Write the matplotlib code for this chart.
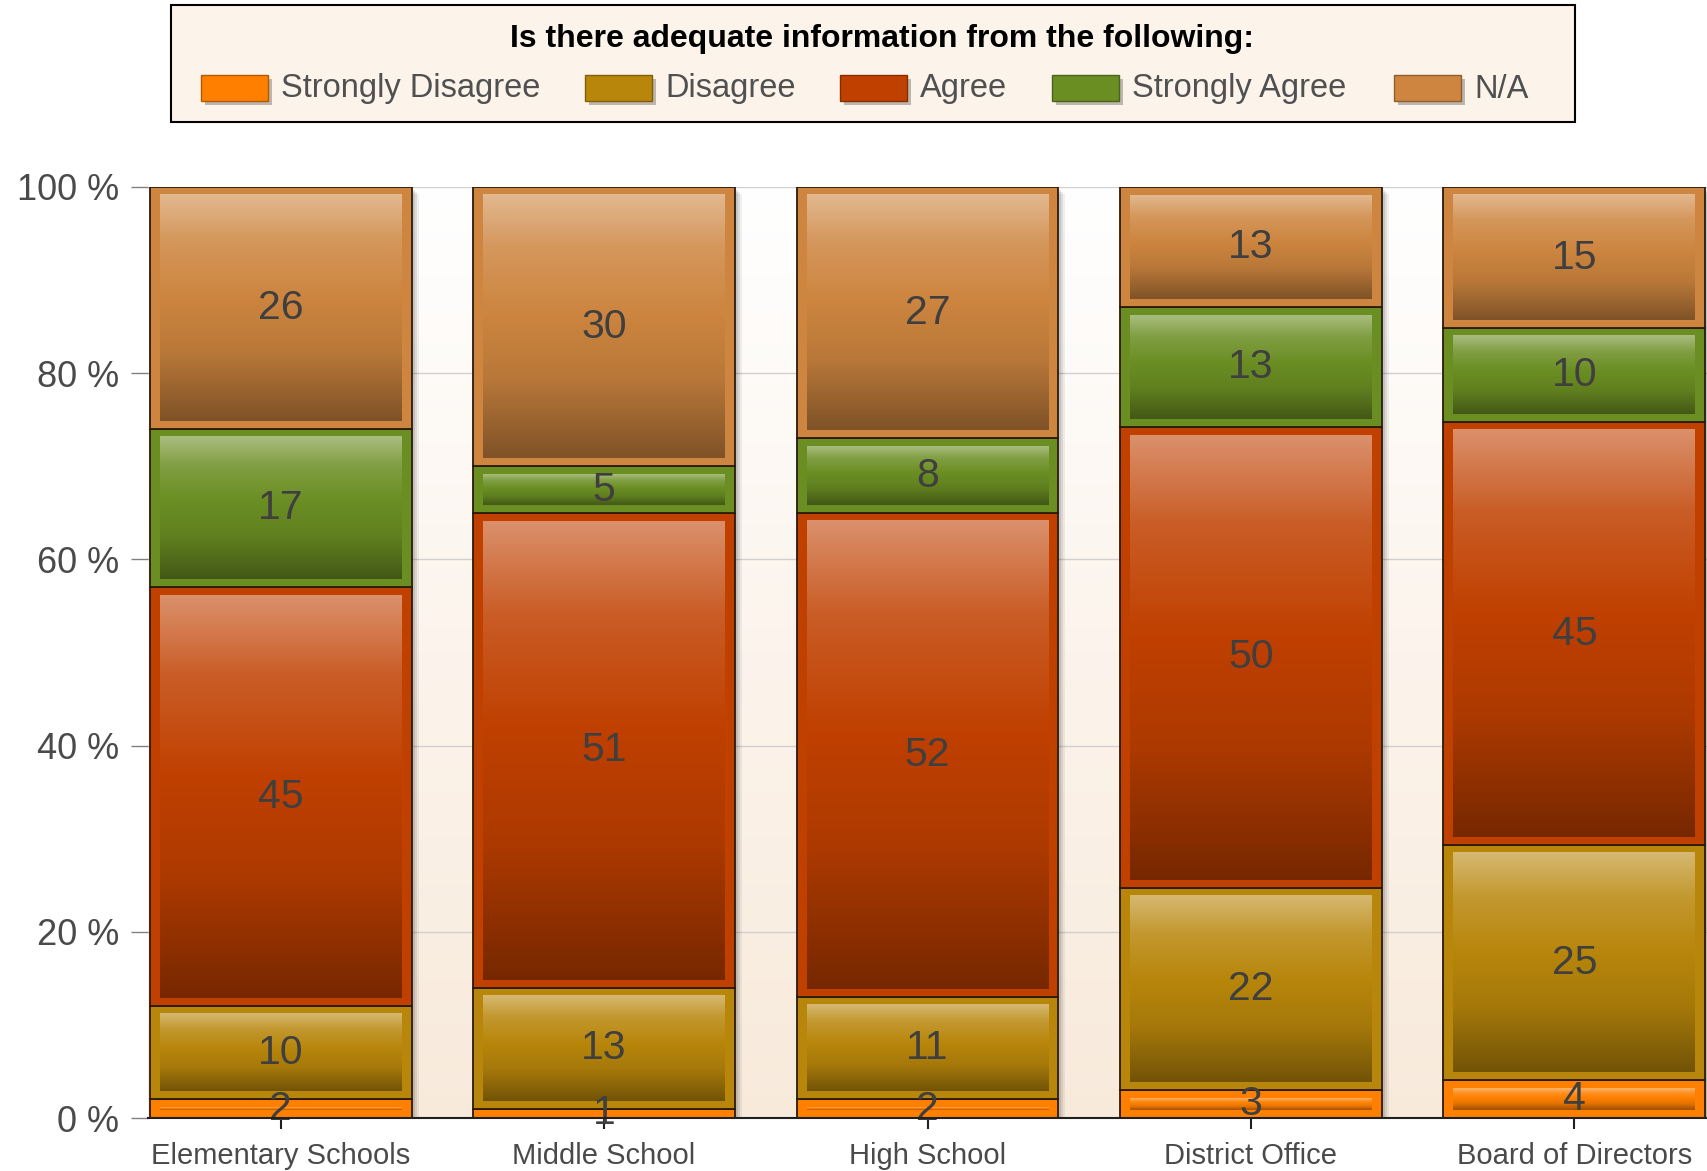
import numpy as np
import matplotlib
matplotlib.use("Agg")
import matplotlib.pyplot as plt
from matplotlib import font_manager as fm
from matplotlib.colors import to_rgb, LinearSegmentedColormap
from matplotlib.patches import Rectangle

# ---------------- data ----------------
categories = ["Elementary Schools", "Middle School", "High School",
              "District Office", "Board of Directors"]
series_names = ["Strongly Disagree", "Disagree", "Agree", "Strongly Agree", "N/A"]
strongly_disagree = [2, 1, 2, 3, 4]
disagree = [10, 13, 11, 22, 25]
agree = [45, 51, 52, 50, 45]
strongly_agree = [17, 5, 8, 13, 10]
not_applicable = [26, 30, 27, 13, 15]
y_ticks = [0, 20, 40, 60, 80, 100]
y_tick_labels = ["0 %", "20 %", "40 %", "60 %", "80 %", "100 %"]
legend_title = "Is there adequate information from the following:"
series_colors = ["#FF8000", "#B8860B", "#C04000", "#6B8E23", "#CD853F"]

# ---------------- fonts ----------------
names = {f.name for f in fm.fontManager.ttflist}
base_font = "Liberation Sans" if "Liberation Sans" in names else "DejaVu Sans"
narrow_font = "Liberation Sans Narrow" if "Liberation Sans Narrow" in names else base_font
plt.rcParams["font.family"] = [base_font, "DejaVu Sans"]

W, H = 1707, 1171
fig = plt.figure(figsize=(W / 100, H / 100), dpi=100)
fig.patch.set_facecolor("white")

ax_left, ax_right, ax_top, ax_bottom = 148, 1707, 187, 1118
ax = fig.add_axes([ax_left / W, 1 - ax_bottom / H,
                   (ax_right - ax_left) / W, (ax_bottom - ax_top) / H])

xlim = (-0.41, 4.41)
ylim = (0, 100)
px_per_x = (ax_right - ax_left) / (xlim[1] - xlim[0])
px_per_y = (ax_bottom - ax_top) / (ylim[1] - ylim[0])

# plot-area background gradient
bg_cmap = LinearSegmentedColormap.from_list("bg", ["#F8EADB", "#FCF4EC", "#FFFFFF"])
ax.imshow(np.linspace(0, 1, 256).reshape(-1, 1), cmap=bg_cmap, origin="lower",
          extent=[0, 1, 0, 1], transform=ax.transAxes, aspect="auto", zorder=0)


def shade(c, f):
    r = np.array(to_rgb(c))
    return tuple(np.clip(r * f, 0, 1))


def tint(c, f):
    r = np.array(to_rgb(c))
    return tuple(r + (1 - r) * f)


counts = np.array([strongly_disagree, disagree, agree, strongly_agree, not_applicable], dtype=float)
totals = counts.sum(axis=0)
pct = counts / totals * 100
x = np.arange(len(categories))
width = 0.81
bottoms = np.zeros(len(categories))

# soft drop shadow per bar column
for k, a in enumerate([0.10, 0.08, 0.06]):
    off = (3 + 2 * k)
    ax.bar(x + off / px_per_x, 100, width, bottom=-off / px_per_y,
           color="black", alpha=a, linewidth=0, zorder=1)

grad = np.linspace(0, 1, 256).reshape(-1, 1)
dx = 10 / px_per_x
dy = 8 / px_per_y
for si, color in enumerate(series_colors):
    vals = pct[si]
    ax.bar(x, vals, width, bottom=bottoms, color=color, edgecolor="#2B1A0A",
           linewidth=1.3, zorder=2)
    cmap = LinearSegmentedColormap.from_list(
        "g%d" % si,
        [(0.0, shade(color, 0.62)), (0.3, shade(color, 0.9)), (0.55, to_rgb(color)),
         (0.8, tint(color, 0.15)), (1.0, tint(color, 0.42))])
    for ci in range(len(categories)):
        y0, h = bottoms[ci], vals[ci]
        if h - 2 * dy > 0.2:
            ax.imshow(grad, cmap=cmap, origin="lower", interpolation="bicubic",
                      extent=[x[ci] - width / 2 + dx, x[ci] + width / 2 - dx,
                              y0 + dy, y0 + h - dy],
                      aspect="auto", zorder=3)
        ax.text(x[ci], y0 + h / 2, "%d" % counts[si, ci], ha="center", va="center",
                fontsize=29.5, color="#3F3F3F", zorder=5)
    bottoms = bottoms + vals

ax.set_xlim(*xlim)
ax.set_ylim(*ylim)
ax.set_yticks(y_ticks, y_tick_labels)
ax.set_xticks(x, categories)
ax.tick_params(axis="y", length=12, width=1, color="#808080", pad=9,
               labelsize=26, labelcolor="#4A4A4A")
ax.tick_params(axis="x", length=8, width=1.5, color="#202020", pad=9,
               labelsize=21, labelcolor="#4A4A4A")
ax.yaxis.grid(True, color="#D0D0D0", linewidth=1)
ax.set_axisbelow(True)
for s in ["left", "top", "right"]:
    ax.spines[s].set_visible(False)
ax.spines["bottom"].set_color("#202020")
ax.spines["bottom"].set_linewidth(1.5)
ax.spines["bottom"].set_zorder(6)

# ---------------- legend ----------------
lax = fig.add_axes([0, 0, 1, 1])
lax.set_xlim(0, W)
lax.set_ylim(H, 0)
lax.axis("off")
lax.add_patch(Rectangle((171, 5), 1404, 117, facecolor="#FCF4EA",
                        edgecolor="black", linewidth=1.5))
lax.text(882, 39, legend_title, ha="center", va="center", fontsize=23,
         fontweight="bold", family=[narrow_font, "DejaVu Sans"], color="black")
patch_x = [201, 585, 840, 1052, 1394]
for name, color, px in zip(series_names, series_colors, patch_x):
    lax.add_patch(Rectangle((px + 4, 79), 67, 26, facecolor="black", alpha=0.25, linewidth=0))
    lax.add_patch(Rectangle((px, 75), 67, 26, facecolor=color,
                            edgecolor=shade(color, 0.7), linewidth=1))
    lax.text(px + 80, 89, name, ha="left", va="center", fontsize=23.5, color="#505050")

fig.savefig("out.png", dpi=100)
